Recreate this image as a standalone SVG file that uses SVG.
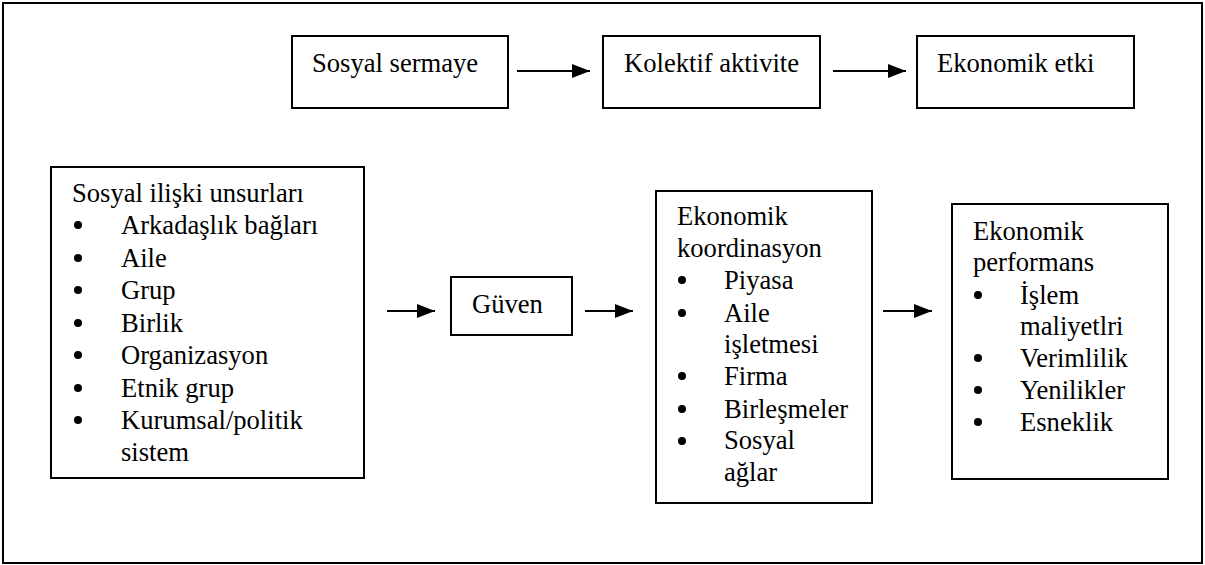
<svg xmlns="http://www.w3.org/2000/svg" width="1205" height="565" viewBox="0 0 1205 565">
<style>
.box{fill:#fff;stroke:#000;stroke-width:2}
text{font-family:'Liberation Serif','Times New Roman','DejaVu Serif',serif;font-size:26.6px;fill:#000}
.b{fill:#000}
.c{stroke:#000;stroke-width:2;fill:none}
</style>
<defs>
<marker id="ah" markerWidth="9" markerHeight="7" refX="9" refY="3.5" orient="auto" markerUnits="strokeWidth">
<path d="M0,0 L9,3.5 L0,7 Z" fill="#000"/>
</marker>
</defs>
<rect x="0" y="0" width="1205" height="565" fill="#fff"/>
<rect id="frame" x="3" y="3" width="1199" height="560" fill="none" stroke="#000" stroke-width="2"/>

<g id="sosyal-sermaye">
<rect class="box" x="292" y="36" width="216" height="72"/>
<text x="312" y="72">Sosyal sermaye</text>
</g>
<g id="kolektif-aktivite">
<rect class="box" x="603" y="36" width="217" height="72"/>
<text x="624" y="72">Kolektif aktivite</text>
</g>
<g id="ekonomik-etki">
<rect class="box" x="917" y="36" width="217" height="72"/>
<text x="937" y="72">Ekonomik etki</text>
</g>

<g id="sosyal-iliski">
<rect class="box" x="51" y="167" width="313" height="311"/>
<text x="72" y="202">Sosyal ilişki unsurları</text>
<g class="b">
<circle cx="78" cy="225" r="4"/>
<circle cx="78" cy="258" r="4"/>
<circle cx="78" cy="290" r="4"/>
<circle cx="78" cy="323" r="4"/>
<circle cx="78" cy="355" r="4"/>
<circle cx="78" cy="388" r="4"/>
<circle cx="78" cy="420" r="4"/>
</g>
<text x="121" y="234">Arkadaşlık bağları</text>
<text x="121" y="266.5">Aile</text>
<text x="121" y="298.5">Grup</text>
<text x="121" y="331.5">Birlik</text>
<text x="121" y="363.5">Organizasyon</text>
<text x="121" y="396.5">Etnik grup</text>
<text x="121" y="428.5">Kurumsal/politik</text>
<text x="121" y="460.5">sistem</text>
</g>

<g id="guven">
<rect class="box" x="451" y="277" width="121" height="58"/>
<text x="472" y="313">Güven</text>
</g>

<g id="ekonomik-koordinasyon">
<rect class="box" x="656" y="191" width="216" height="312"/>
<text x="677" y="225">Ekonomik</text>
<text x="677" y="257">koordinasyon</text>
<g class="b">
<circle cx="682" cy="280" r="4"/>
<circle cx="682" cy="313" r="4"/>
<circle cx="682" cy="376" r="4"/>
<circle cx="682" cy="409" r="4"/>
<circle cx="682" cy="441" r="4"/>
</g>
<text x="724" y="289">Piyasa</text>
<text x="724" y="322">Aile</text>
<text x="724" y="353">işletmesi</text>
<text x="724" y="385">Firma</text>
<text x="724" y="418">Birleşmeler</text>
<text x="724" y="449">Sosyal</text>
<text x="724" y="481">ağlar</text>
</g>

<g id="ekonomik-performans">
<rect class="box" x="952" y="204" width="216" height="275"/>
<text x="973" y="240">Ekonomik</text>
<text x="973" y="271">performans</text>
<g class="b">
<circle cx="978" cy="295" r="4"/>
<circle cx="978" cy="358" r="4"/>
<circle cx="978" cy="390" r="4"/>
<circle cx="978" cy="422" r="4"/>
</g>
<text x="1020" y="304">İşlem</text>
<text x="1020" y="335">maliyetlri</text>
<text x="1020" y="367">Verimlilik</text>
<text x="1020" y="399">Yenilikler</text>
<text x="1020" y="431">Esneklik</text>
</g>

<g id="connectors">
<line class="c" x1="517" y1="71" x2="590" y2="71" marker-end="url(#ah)"/>
<line class="c" x1="833" y1="71" x2="906" y2="71" marker-end="url(#ah)"/>
<line class="c" x1="387" y1="311" x2="435" y2="311" marker-end="url(#ah)"/>
<line class="c" x1="585" y1="311" x2="633" y2="311" marker-end="url(#ah)"/>
<line class="c" x1="883" y1="311" x2="932" y2="311" marker-end="url(#ah)"/>
</g>
</svg>
